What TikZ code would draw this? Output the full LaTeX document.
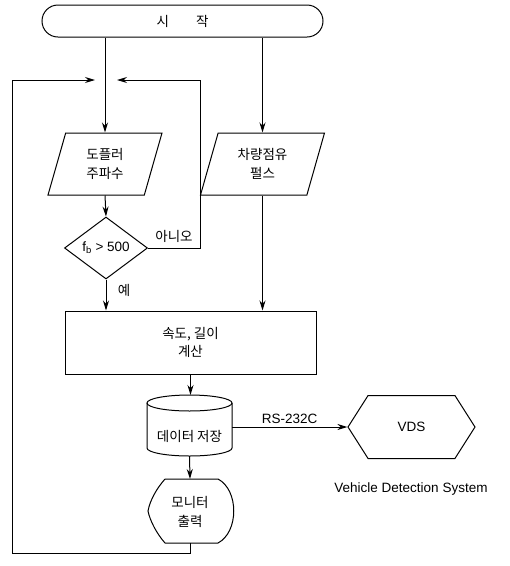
\documentclass[tikz,border=0pt]{standalone}
\usepackage{fontspec}
\setmainfont{Liberation Sans}
\newfontfamily\kr{Noto Sans CJK KR}
\usetikzlibrary{shapes.geometric,shapes.symbols,arrows.meta}

\begin{document}
\begin{tikzpicture}[x=1pt, y=-1pt, line width=1pt, >={Stealth[length=10pt,width=6pt]},
    every node/.style={font=\fontsize{13.5}{18.5}\selectfont, align=center},
    term/.style={draw, rectangle, rounded corners=16pt, minimum width=281pt, minimum height=32pt},
    io/.style={draw, trapezium, trapezium stretches body, trapezium left angle=63, trapezium right angle=117,
        minimum height=62pt, inner xsep=0pt, inner ysep=2pt},
    dec/.style={draw, diamond, inner sep=0pt, aspect=1.34, minimum width=83pt, minimum height=62pt},
    proc/.style={draw, rectangle, minimum width=251pt, minimum height=63pt},
    ext/.style={draw, signal, signal to=west and east, signal pointer angle=115, minimum width=127pt, minimum height=63pt}]
    \useasboundingbox (0,0) rectangle (510,566);

    % 시작과 입력
    \node[term] (start) at (182.5,21) {\kr 시\hspace{2em}작};
    \node[io, minimum width=114pt] (dop) at (105,164) {\kr 도플러\\\kr 주파수};
    \node[io, minimum width=124pt] (occ) at (262.5,164) {\kr 차량점유\\\kr 펄스};
    \draw[->] (start.south -| dop.north) -- (dop.north);
    \draw[->] (start.south -| occ.north) -- (occ.north);

    % 판단
    \node[dec] (cmp) at (106,248) {f\textsubscript{b} > 500};
    \draw[->] (dop.south) -- (cmp.north);

    % 속도, 길이 계산
    \node[proc] (calc) at (190.5,342.5) {\kr 속도, 길이\\\kr 계산};
    \draw[->] (cmp.south) -- node[pos=0.35, right=8pt] {\kr 예} (cmp.south |- calc.north);
    \draw[->] (occ.south) -- (occ.south |- calc.north);

    % 아니오 -> 되돌아감
    \coordinate (noTop) at (200,80);
    \coordinate (noEnd) at (117,80);
    \node (no) at (174,236) {\kr 아니오};
    \draw[->] (cmp.east) -| (noTop) -- (noEnd);

    % 데이터 저장 (원통)
    \draw (147,403) -- (147,448) arc[start angle=180, end angle=360, x radius=42.5pt, y radius=8pt] -- (232,403);
    \draw (189.5,403) ellipse[x radius=42.5pt, y radius=8pt];
    \node (db) at (189.5,436) {\kr 데이터 저장};
    \coordinate (dbN) at (189.5,395);
    \coordinate (dbS) at (189.5,456);
    \coordinate (dbE) at (232,427);
    \draw[->] (calc.south) -- (calc.south |- dbN);

    % VDS
    \node[ext] (vds) at (411.5,427) {VDS};
    \node (vdsName) at (411,489) {Vehicle Detection System};
    \draw[->] (dbE) -- node[above] {RS-232C} (vds.west);

    % 모니터 출력
    \draw (165,479) -- (218,479) .. controls (239,490) and (239,532) .. (218,543) -- (165,543)
        .. controls (157,534) and (150,521) .. (148,511) .. controls (150,500) and (157,488) .. (165,479);
    \node (mon) at (190,512) {\kr 모니터\\\kr 출력};
    \coordinate (monN) at (190,479);
    \coordinate (monS) at (190,543);
    \draw[->] (dbS) -- (monN);

    % 처음으로 되돌아감
    \coordinate (loopCorner) at (12,80);
    \coordinate (loopEnd) at (95,80);
    \draw[->] (monS) -- ++(0,10) -| (loopCorner) -- (loopEnd);

\end{tikzpicture}
\end{document}
